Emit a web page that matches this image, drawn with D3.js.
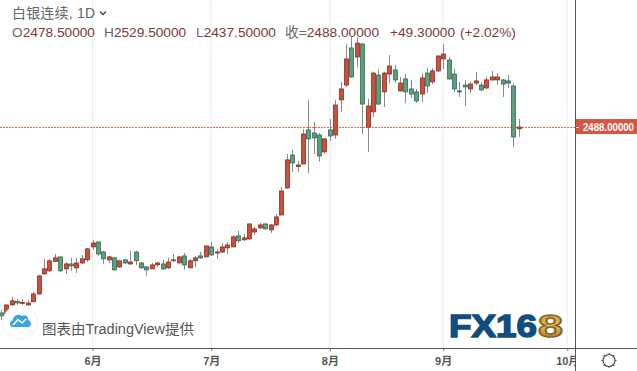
<!DOCTYPE html>
<html lang="zh">
<head>
<meta charset="UTF-8">
<title>白银连续, 1D</title>
<script src="https://cdnjs.cloudflare.com/ajax/libs/d3/7.8.5/d3.min.js"></script>
<style>
    html, body { margin: 0; padding: 0; background: #fff; overflow: hidden; }
    svg { display: block; }
    text { font-family: "Liberation Sans", "Noto Sans CJK SC", sans-serif; }
</style>
</head>
<body>
<svg id="chart" width="637" height="371"></svg>
<script>
// daily candles, oldest first
const opens = [1539,1519,1580,1598,1590,1580,1596,1636,1738,1754,1802,1825,1764,1789,1769,1794,1810,1876,1901,
    1850,1810,1820,1774,1810,1789,1850,1794,1774,1764,1784,1789,1769,1810,1794,1830,1769,1805,1830,1825,1876,
    1845,1850,1871,1876,1932,1912,1917,1952,1973,1993,1963,1988,2039,2177,2345,2286,2299,2473,2457,2447,2361,
    2473,2447,2626,2702,2891,2845,2911,2488,2565,2753,2667,2758,2779,2672,2733,2682,2667,2656,2763,2718,2774,
    2835,2830,2758,2672,2702,2682,2712,2702,2687,2728,2728,2728,2723,2697,2478.5];
const highs = [1555,1580,1621,1611,1611,1606,1646,1733,1815,1815,1840,1825,1799,1820,1820,1835,1871,1912,1906,
    1856,1830,1825,1810,1815,1856,1856,1799,1779,1794,1799,1810,1820,1840,1830,1845,1815,1830,1850,1881,1901,
    1866,1896,1901,1937,1958,1942,1998,1978,1998,1998,1993,2044,2182,2350,2371,2315,2478,2626,2514,2457,2432,
    2529,2626,2718,2911,2947,2947,2916,2631,2769,2784,2769,2855,2804,2743,2758,2728,2682,2763,2789,2789,2855,
    2911,2845,2784,2718,2728,2718,2769,2718,2743,2774,2763,2733,2753,2712,2529.5];
const lows = [1503,1514,1575,1575,1575,1575,1596,1631,1738,1748,1799,1748,1738,1754,1743,1789,1799,1861,1830,
    1789,1794,1754,1769,1789,1784,1784,1764,1728,1764,1774,1759,1764,1799,1794,1759,1769,1774,1815,1825,1830,
    1815,1845,1840,1876,1896,1907,1912,1937,1968,1963,1947,1983,2039,2172,2258,2258,2299,2253,2350,2310,2350,
    2417,2427,2565,2692,2738,2794,2452,2361,2539,2600,2590,2712,2712,2667,2610,2636,2610,2616,2661,2707,2769,
    2784,2728,2667,2641,2595,2661,2702,2672,2682,2723,2702,2641,2687,2386,2437.5];
const closes = [1524,1580,1601,1590,1593,1590,1636,1728,1764,1805,1820,1754,1789,1779,1794,1815,1866,1896,1840,
    1815,1825,1759,1805,1794,1799,1805,1769,1759,1784,1794,1764,1799,1805,1825,1784,1805,1820,1820,1881,1835,
    1850,1876,1886,1927,1907,1922,1993,1968,1988,1968,1988,2029,2161,2320,2304,2294,2452,2427,2432,2340,2427,
    2442,2600,2682,2835,2743,2916,2605,2595,2763,2605,2763,2799,2728,2712,2667,2656,2621,2738,2697,2774,2850,
    2860,2733,2682,2667,2692,2707,2723,2677,2728,2743,2743,2707,2712,2437,2488];

const monthIdx = [17, 39, 61, 82, 105];
const monthLabels = ["6月", "7月", "8月", "9月", "10月"];

const lastPrice = 2488;
const legendParts = [
    { x: 12, label: "O", value: "2478.50000" },
    { x: 104, label: "H", value: "2529.50000" },
    { x: 196, label: "L", value: "2437.50000" },
    { x: 285, label: "收=", value: "2488.00000" }
];

const plotRight = 575, plotBottom = 348;
const svg = d3.select("#chart");

const x = d3.scaleLinear().domain([0, 96]).range([0.8, 518.7]);
const y = d3.scaleLinear().domain([1503, 2947]).range([320, 37]);
const lastY = Math.round(y(lastPrice)) + 0.5;

const upFill = "#c9503e", upEdge = "#8c2f22";
const downFill = "#5f9f80", downEdge = "#2f6b52";

svg.append("rect").attr("width", 637).attr("height", 371).attr("fill", "#fff");

// month grid
svg.append("g").selectAll("line").data(monthIdx).join("line")
    .attr("x1", d => x(d)).attr("x2", d => x(d))
    .attr("y1", 0).attr("y2", plotBottom)
    .attr("stroke", "#eaeff4");

// last price line
svg.append("line")
    .attr("x1", 0).attr("x2", plotRight)
    .attr("y1", lastY).attr("y2", lastY)
    .attr("stroke", "#dc6a5a").attr("stroke-dasharray", "2,1");

const candles = svg.append("g").selectAll("g").data(opens).join("g");

candles.append("line")
    .attr("x1", (d, i) => Math.round(x(i)) + 0.5)
    .attr("x2", (d, i) => Math.round(x(i)) + 0.5)
    .attr("y1", (d, i) => y(highs[i]))
    .attr("y2", (d, i) => y(lows[i]))
    .attr("stroke", "#8a8a8a");

candles.append("rect")
    .attr("x", (d, i) => Math.round(x(i)) - 1.5)
    .attr("width", 4)
    .attr("y", (d, i) => y(Math.max(d, closes[i])))
    .attr("height", (d, i) => Math.max(1, Math.abs(y(d) - y(closes[i]))))
    .attr("fill", (d, i) => closes[i] >= d ? upFill : downFill)
    .attr("stroke", (d, i) => closes[i] >= d ? upEdge : downEdge)
    .attr("stroke-width", 0.8);

// x axis
const xAxis = d3.axisBottom(x)
    .tickValues(monthIdx)
    .tickFormat((d, i) => monthLabels[i])
    .tickSize(3)
    .tickPadding(6);

const axisG = svg.append("g")
    .attr("transform", `translate(0,${plotBottom})`)
    .call(xAxis);
axisG.select(".domain").remove();
axisG.selectAll("line").attr("stroke", "#777");
axisG.selectAll("text")
    .attr("fill", "#555").attr("font-size", 11).attr("font-weight", "bold");

// white box behind the corner, cuts off the 10月 label like the original
svg.append("rect").attr("x", plotRight).attr("y", plotBottom)
    .attr("width", 637 - plotRight).attr("height", 371 - plotBottom).attr("fill", "#fff");

svg.append("line").attr("x1", 0).attr("x2", 637)
    .attr("y1", plotBottom + 0.5).attr("y2", plotBottom + 0.5)
    .attr("stroke", "#555");
svg.append("line").attr("x1", plotRight + 0.5).attr("x2", plotRight + 0.5)
    .attr("y1", 0).attr("y2", 371)
    .attr("stroke", "#555");

// price tag
svg.append("rect").attr("x", plotRight + 1).attr("y", lastY - 8.5)
    .attr("width", 61).attr("height", 15).attr("fill", "#d9553f");
svg.append("line").attr("x1", plotRight + 1).attr("x2", plotRight + 4)
    .attr("y1", lastY).attr("y2", lastY)
    .attr("stroke", "#fff");
svg.append("text").attr("x", 583).attr("y", lastY + 3.5)
    .attr("fill", "#fff").attr("font-size", 10).attr("font-weight", "bold")
    .attr("textLength", 51).attr("lengthAdjust", "spacingAndGlyphs")
    .text("2488.00000");

// legend
svg.append("text").attr("x", 12).attr("y", 18)
    .attr("fill", "#666").attr("font-size", 14)
    .attr("textLength", 83)
    .text("白银连续, 1D");
svg.append("path").attr("d", "M100,11.5 l3,3 l3,-3")
    .attr("fill", "none").attr("stroke", "#444").attr("stroke-width", 1.3);

const valueColor = "#7a3a36";
const legendText = svg.append("g").selectAll("text").data(legendParts).join("text")
    .attr("x", d => d.x).attr("y", 37).attr("font-size", 13.7);
legendText.append("tspan").attr("fill", "#666").text(d => d.label);
legendText.append("tspan").attr("fill", valueColor).text(d => d.value);
svg.append("text").attr("x", 390).attr("y", 37).attr("font-size", 13.7)
    .attr("fill", valueColor).text("+49.30000");
svg.append("text").attr("x", 460).attr("y", 37).attr("font-size", 13.7)
    .attr("fill", valueColor).text("(+2.02%)");

// TradingView badge
svg.append("circle").attr("cx", 20).attr("cy", 322).attr("r", 17)
    .attr("fill", "#fff").attr("stroke", "#eef1f4");
svg.append("path")
    .attr("d", "M13,327 C9,327 9,321 13,320 C13,316 18,313 22,316 C25,314 29,317 28,320 C32,321 32,327 28,327 Z")
    .attr("fill", "#3da2e2");
svg.append("path")
    .attr("d", "M13,325 L18,319.5 L22,323 L26,319")
    .attr("fill", "none").attr("stroke", "#fff").attr("stroke-width", 1.6);
svg.append("text").attr("x", 42).attr("y", 334)
    .attr("fill", "#555").attr("font-size", 14)
    .attr("textLength", 152).attr("lengthAdjust", "spacingAndGlyphs")
    .text("图表由TradingView提供");

// FX168 logo
const defs = svg.append("defs");
const gold = defs.append("linearGradient").attr("id", "gold")
    .attr("x1", 0).attr("x2", 0).attr("y1", 0).attr("y2", 1);
gold.append("stop").attr("offset", "0%").attr("stop-color", "#b98a2e");
gold.append("stop").attr("offset", "50%").attr("stop-color", "#e2c05f");
gold.append("stop").attr("offset", "100%").attr("stop-color", "#7a5618");

svg.append("text").attr("x", 449).attr("y", 337)
    .attr("font-size", 32).attr("font-weight", "bold").attr("font-family", "DejaVu Sans")
    .attr("fill", "#124d80").attr("stroke", "#124d80").attr("stroke-width", 1.5)
    .attr("textLength", 88).attr("lengthAdjust", "spacingAndGlyphs")
    .text("FX16");
svg.append("text").attr("x", 538).attr("y", 337)
    .attr("font-size", 32).attr("font-weight", "bold").attr("font-family", "DejaVu Sans")
    .attr("fill", "url(#gold)").attr("stroke", "#8a6420").attr("stroke-width", 1.5)
    .attr("textLength", 25).attr("lengthAdjust", "spacingAndGlyphs")
    .text("8");

// settings gear
const gear = svg.append("g").attr("transform", "translate(609,360.5)");
gear.append("circle").attr("r", 6).attr("fill", "none").attr("stroke", "#444").attr("stroke-width", 1.1);
gear.selectAll("line").data(d3.range(8)).join("line")
    .attr("x1", 0).attr("x2", 0).attr("y1", -6).attr("y2", -7.5)
    .attr("transform", d => `rotate(${d * 45})`)
    .attr("stroke", "#444");
</script>
</body>
</html>
